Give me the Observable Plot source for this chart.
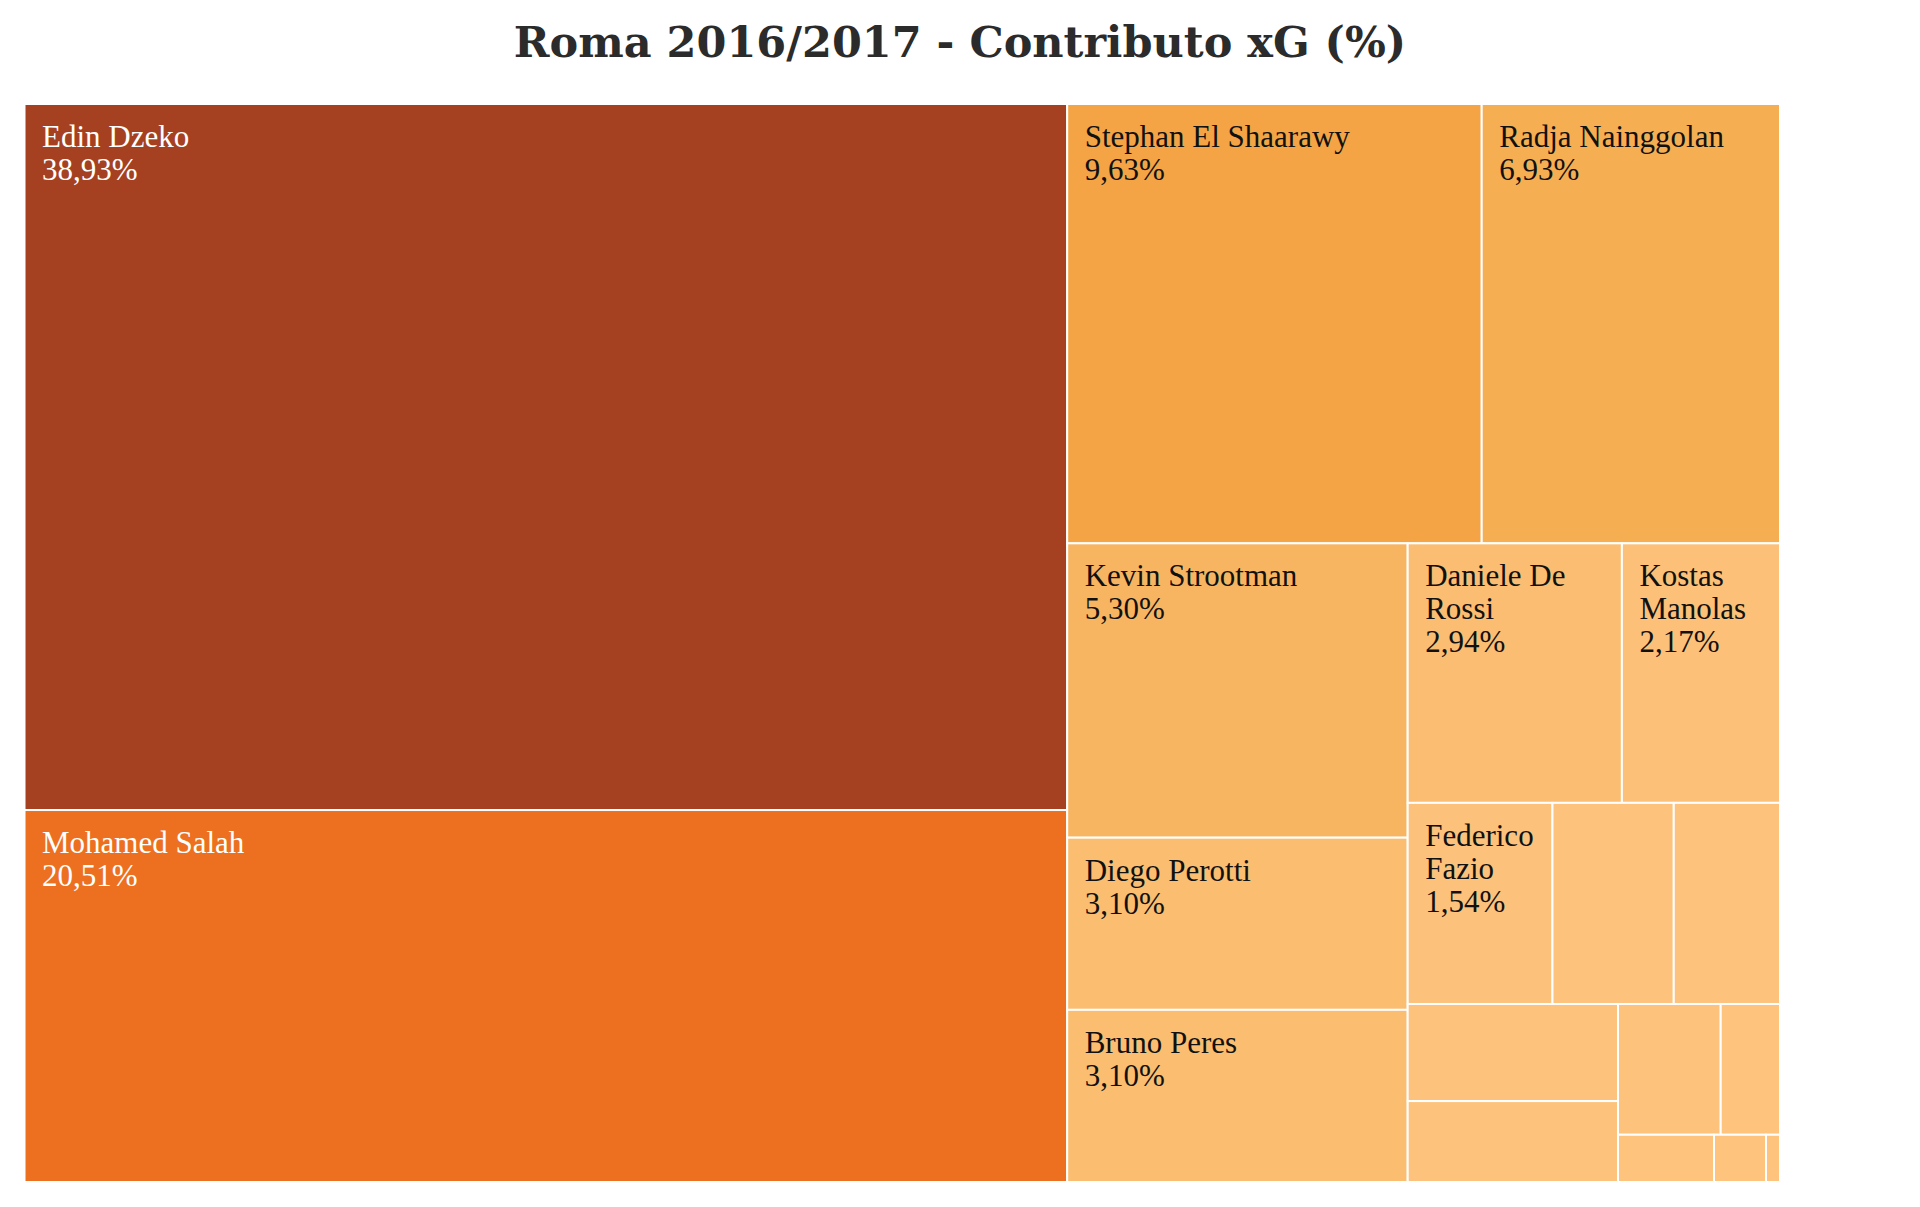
<!DOCTYPE html>
<html>
<head>
<meta charset="utf-8">
<script src="https://cdn.jsdelivr.net/npm/d3@7"></script>
<script src="https://cdn.jsdelivr.net/npm/@observablehq/plot@0.6"></script>
<style>
  html, body { margin: 0; padding: 0; background: #fff; }
  body { width: 1920px; height: 1207px; overflow: hidden; }
  #title {
    height: 90px; box-sizing: border-box; margin: 0; padding-top: 21px;
    font-family: "DejaVu Serif", serif; font-weight: bold; font-size: 43px;
    line-height: 1; text-align: center; color: #2b2b2b;
  }
</style>
</head>
<body>
<div id="title">Roma 2016/2017 - Contributo xG (%)</div>
<div id="chart"></div>
<script>
// Players (in order of contribution) and their share of team xG (%)
const players = [
  "Edin Dzeko", "Mohamed Salah", "Stephan El Shaarawy", "Radja Nainggolan",
  "Kevin Strootman", "Diego Perotti", "Bruno Peres", "Daniele De Rossi",
  "Kostas Manolas", "Federico Fazio",
  "Altro 1", "Altro 2", "Altro 3", "Altro 4", "Altro 5",
  "Altro 6", "Altro 7", "Altro 8", "Altro 9"
];
const shares = [
  38.93, 20.51, 9.63, 6.93,
  5.30, 3.10, 3.10, 2.94,
  2.17, 1.54,
  1.29, 1.13, 1.08, 0.90, 0.71,
  0.41, 0.24, 0.13, 0.035
];
// Only players above this share are labelled in the original
const labelThreshold = 1.5;

// Sequential colour scale stops (share % -> colour)
const colorStops = [0, 2, 3, 5.3, 6.93, 9.63, 20.51, 38.93];
const colorRange = ["#fec47e", "#fcc17a", "#fbbd70", "#f8b561", "#f6ae52", "#f4a444", "#ec7020", "#a54121"];

const W = 1755.5, H = 1078;
const root = d3.hierarchy({children: players.map((name, i) => ({name, value: shares[i]}))})
  .sum(d => d.value || 0)
  .sort((a, b) => b.value - a.value);
d3.treemap().tile(d3.treemapSquarify).size([W, H]).round(false)(root);
const leaves = root.leaves();

// Wrap label names to fit the tile width
const fontSize = 31, padX = 17, labelFont = "Liberation Serif";
const ctx = document.createElement("canvas").getContext("2d");
ctx.font = `${fontSize}px "${labelFont}"`;
function wrap(text, maxW) {
  const words = text.split(" ");
  const lines = [];
  let line = "";
  for (const w of words) {
    const t = line ? line + " " + w : w;
    if (line && ctx.measureText(t).width > maxW) { lines.push(line); line = w; }
    else line = t;
  }
  if (line) lines.push(line);
  return lines.join("\n");
}
const fmt = v => v.toFixed(2).replace(".", ",") + "%";
const labelled = leaves.filter(d => d.data.value >= labelThreshold).map(d => ({
  x0: d.x0, y0: d.y0, value: d.data.value,
  label: wrap(d.data.name, (d.x1 - d.x0) - 2 * padX) + "\n" + fmt(d.data.value)
}));

const textOpts = {
  x: "x0", y: "y0", text: "label", dx: padX, dy: 19,
  textAnchor: "start", lineAnchor: "top", fontSize, lineHeight: 1.065,
  fontFamily: labelFont
};

const chart = Plot.plot({
  width: 1920, height: 1117,
  marginTop: 14, marginBottom: 25, marginLeft: 24.5, marginRight: 140,
  x: {domain: [0, W], axis: null},
  y: {domain: [0, H], reverse: true, axis: null},
  color: {type: "linear", domain: colorStops, range: colorRange, interpolate: "rgb"},
  style: {fontFamily: labelFont, background: "#fff"},
  marks: [
    Plot.rect(leaves, {x1: "x0", x2: "x1", y1: "y0", y2: "y1", fill: d => d.data.value, stroke: "#fff", strokeWidth: 2}),
    Plot.text(labelled.filter(d => d.value > 15), {...textOpts, fill: "#fff"}),
    Plot.text(labelled.filter(d => d.value <= 15), {...textOpts, fill: "#111"})
  ]
});
document.getElementById("chart").appendChild(chart);
</script>
</body>
</html>
